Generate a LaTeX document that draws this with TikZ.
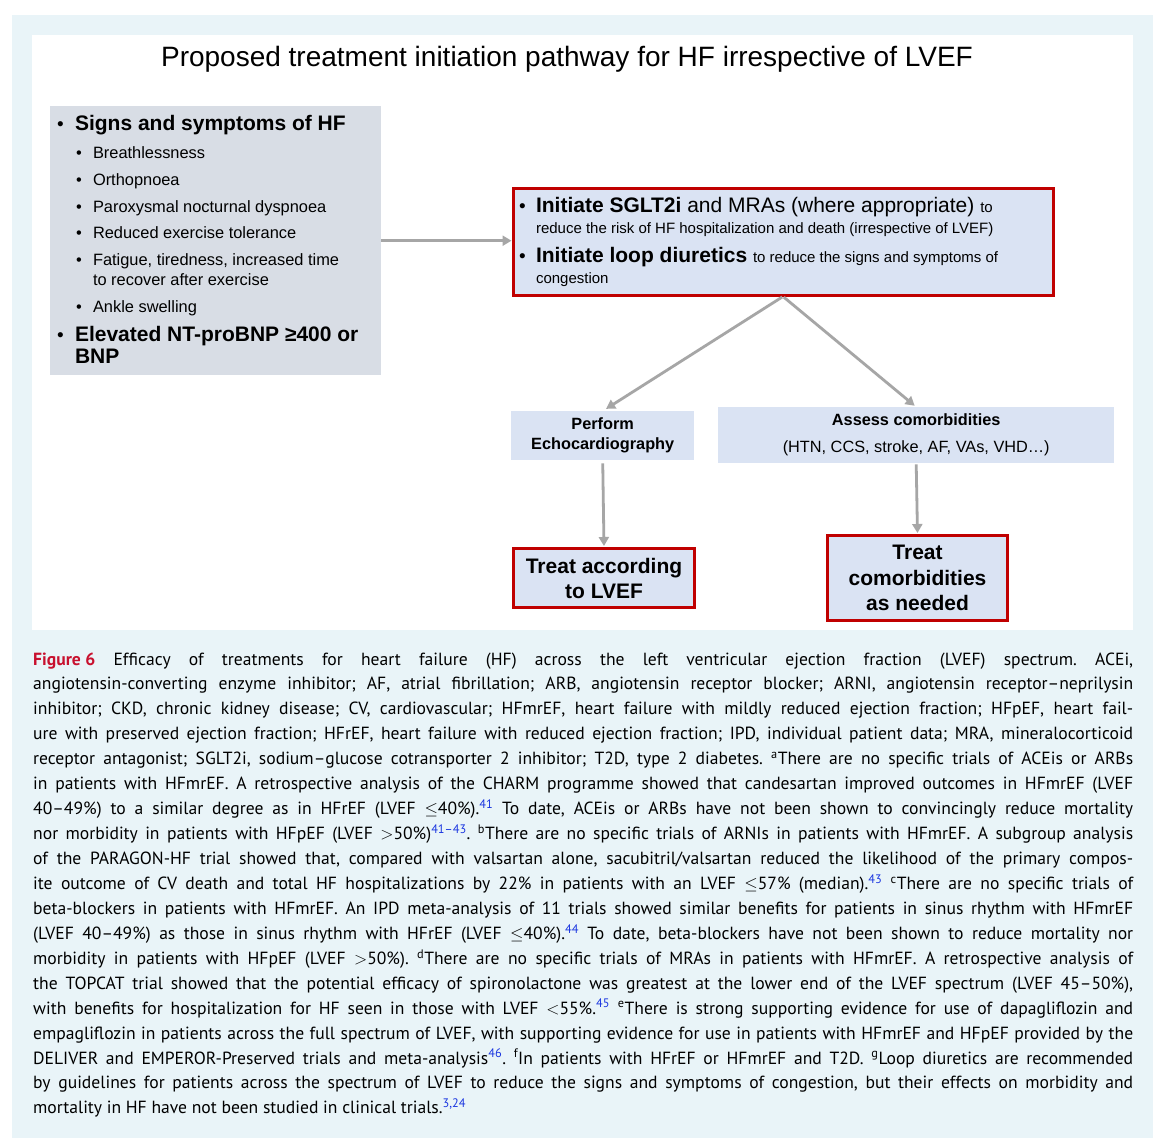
\documentclass[tikz,border=0pt]{standalone}
\usepackage{fontspec}
\setmainfont{Liberation Sans}
\newfontfamily\capfont{PT Sans}
\usetikzlibrary{arrows.meta}
\definecolor{outerbg}{HTML}{E9F4F8}
\definecolor{graybox}{HTML}{D8DDE5}
\definecolor{bluebox}{HTML}{DAE3F3}
\definecolor{redline}{HTML}{C00000}
\definecolor{arrowgray}{HTML}{A6A6A6}
\definecolor{figred}{HTML}{C8102E}
\definecolor{supblue}{HTML}{1A35E0}
\newcommand\fs[1]{\fontsize{#1}{#1}\selectfont}
\newcommand\capline[1]{\hbox to 1100pt{#1}}
\newcommand\sref[1]{\textsuperscript{\textcolor{supblue}{#1}}}
\begin{document}
\begin{tikzpicture}[x=1pt,y=-1pt,
  txt/.style={inner sep=0pt, outer sep=0pt, anchor=base west},
  redbox/.style={draw=redline, line width=3pt, fill=bluebox, inner sep=0pt, anchor=north west},
  plainbox/.style={fill=bluebox, inner sep=0pt, anchor=north west, align=center},
  flow/.style={draw=arrowgray, line width=2.8pt, -{Triangle[length=9pt,width=10pt]}},
  subitem/.style={txt, font=\fs{16.4}},
  mainitem/.style={txt, font=\fs{21}\bfseries},
  reditem/.style={txt, font=\fs{21}}
]
\useasboundingbox (0,0) rectangle (1165,1144);
\fill[white] (0,0) rectangle (1165,1144);
\fill[outerbg] (12,15) rectangle (1153,1138);
\fill[white] (32,35) rectangle (1133,630);

% title
\node[inner sep=0pt, anchor=base, font=\fs{28}] (title) at (567,66) {Proposed treatment initiation pathway for HF irrespective of LVEF};

% left box
\node[fill=graybox, inner sep=0pt, anchor=north west, minimum width=331pt, minimum height=269pt] (signs) at (50,106) {};
\node[txt, font=\fs{19}] (b1) at (57,130) {\textbullet};
\node[mainitem] (m1) at (75,130) {Signs and symptoms of HF};
\node[subitem] (sb1) at (76,158) {\textbullet};
\node[subitem] (s1) at (93,158) {Breathlessness};
\node[subitem] (sb2) at (76,185) {\textbullet};
\node[subitem] (s2) at (93,185) {Orthopnoea};
\node[subitem] (sb3) at (76,212) {\textbullet};
\node[subitem] (s3) at (93,212) {Paroxysmal nocturnal dyspnoea};
\node[subitem] (sb4) at (76,238) {\textbullet};
\node[subitem] (s4) at (93,238) {Reduced exercise tolerance};
\node[subitem] (sb5) at (76,265) {\textbullet};
\node[subitem] (s5) at (93,265) {Fatigue, tiredness, increased time};
\node[subitem] (s5b) at (93,285) {to recover after exercise};
\node[subitem] (sb6) at (76,312) {\textbullet};
\node[subitem] (s6) at (93,312) {Ankle swelling};
\node[txt, font=\fs{19}] (b2) at (57,341) {\textbullet};
\node[mainitem] (m2) at (75,341) {Elevated NT-proBNP ≥400 or};
\node[mainitem] (m2b) at (75,363) {BNP};

% red box
\node[redbox, minimum width=540pt, minimum height=107pt] (initiate) at (511.5,186.5) {};
\node[txt, font=\fs{19}] (rb1) at (519,212) {\textbullet};
\node[reditem] (r1) at (536,212) {\textbf{Initiate SGLT2i} and MRAs (where appropriate) {\fs{15}to}};
\node[txt, font=\fs{15}] (r1b) at (536,233) {reduce the risk of HF hospitalization and death (irrespective of LVEF)};
\node[txt, font=\fs{19}] (rb2) at (519,262) {\textbullet};
\node[reditem] (r2) at (536,262) {\textbf{Initiate loop diuretics} {\fs{15}to reduce the signs and symptoms of}};
\node[txt, font=\fs{15}] (r2b) at (536,283) {congestion};

% middle boxes
\node[plainbox, minimum width=183pt, minimum height=49pt, font=\fontsize{16.3}{20}\selectfont\bfseries] (echo) at (511,411) {Perform\\Echocardiography};
\node[plainbox, minimum width=396pt, minimum height=56pt, font=\fontsize{16.3}{27}\selectfont] (assess) at (718,407) {\textbf{Assess comorbidities}\\(HTN, CCS, stroke, AF, VAs, VHD…)};

% bottom boxes
\node[redbox, align=center, minimum width=181pt, minimum height=59pt, font=\fontsize{21}{25}\selectfont\bfseries] (treatlvef) at (512,547) {Treat according\\to LVEF};
\node[redbox, align=center, minimum width=180pt, minimum height=85pt, font=\fontsize{21}{25.5}\selectfont\bfseries] (treatco) at (826,534) {Treat\\comorbidities\\as needed};

% connectors
\draw[flow] (signs.east) -- (signs.east -| initiate.west);
\draw[flow, shorten <=1pt, shorten >=4pt] (initiate.south) -- (echo.north);
\draw[flow, shorten <=1pt, shorten >=2pt] (initiate.south) -- (assess.north);
\draw[flow, shorten <=3pt, shorten >=1pt] (echo.south) -- (treatlvef.north);
\draw[flow, shorten <=1pt, shorten >=1pt] (assess.south) -- (treatco.north);

% caption
\node[inner sep=0pt, anchor=base west] (caption) at (33,665) {\begin{minipage}[t]{1100pt}\capfont\fontsize{17.6}{24.94}\selectfont\frenchspacing
\capline{\textcolor{figred}{\textbf{\mbox{Figure 6}}} Efficacy of treatments for heart failure (HF) across the left ventricular ejection fraction (LVEF) spectrum. ACEi,}
\capline{angiotensin-converting enzyme inhibitor; AF, atrial fibrillation; ARB, angiotensin receptor blocker; ARNI, angiotensin receptor–neprilysin}
\capline{inhibitor; CKD, chronic kidney disease; CV, cardiovascular; HFmrEF, heart failure with mildly reduced ejection fraction; HFpEF, heart fail-}
\capline{ure with preserved ejection fraction; HFrEF, heart failure with reduced ejection fraction; IPD, individual patient data; MRA, mineralocorticoid}
\capline{receptor antagonist; SGLT2i, sodium–glucose cotransporter 2 inhibitor; T2D, type 2 diabetes. \textsuperscript{a}There are no specific trials of ACEis or ARBs}
\capline{in patients with HFmrEF. A retrospective analysis of the CHARM programme showed that candesartan improved outcomes in HFmrEF (LVEF}
\capline{40–49\%) to a similar degree as in HFrEF (LVEF $\leq$40\%).\sref{41} To date, ACEis or ARBs have not been shown to convincingly reduce mortality}
\capline{nor morbidity in patients with HFpEF (LVEF $>$50\%)\sref{41–43}. \textsuperscript{b}There are no specific trials of ARNIs in patients with HFmrEF. A subgroup analysis}
\capline{of the PARAGON-HF trial showed that, compared with valsartan alone, sacubitril/valsartan reduced the likelihood of the primary compos-}
\capline{ite outcome of CV death and total HF hospitalizations by 22\% in patients with an LVEF $\leq$57\% (median).\sref{43} \textsuperscript{c}There are no specific trials of}
\capline{beta-blockers in patients with HFmrEF. An IPD meta-analysis of 11 trials showed similar benefits for patients in sinus rhythm with HFmrEF}
\capline{(LVEF 40–49\%) as those in sinus rhythm with HFrEF (LVEF $\leq$40\%).\sref{44} To date, beta-blockers have not been shown to reduce mortality nor}
\capline{morbidity in patients with HFpEF (LVEF $>$50\%). \textsuperscript{d}There are no specific trials of MRAs in patients with HFmrEF. A retrospective analysis of}
\capline{the TOPCAT trial showed that the potential efficacy of spironolactone was greatest at the lower end of the LVEF spectrum (LVEF 45–50\%),}
\capline{with benefits for hospitalization for HF seen in those with LVEF $<$55\%.\sref{45} \textsuperscript{e}There is strong supporting evidence for use of dapagliflozin and}
\capline{empagliflozin in patients across the full spectrum of LVEF, with supporting evidence for use in patients with HFmrEF and HFpEF provided by the}
\capline{DELIVER and EMPEROR-Preserved trials and meta-analysis\sref{46}. \textsuperscript{f}In patients with HFrEF or HFmrEF and T2D. \textsuperscript{g}Loop diuretics are recommended}
\capline{by guidelines for patients across the spectrum of LVEF to reduce the signs and symptoms of congestion, but their effects on morbidity and}
\capline{mortality in HF have not been studied in clinical trials.\sref{3,24}\hfil}
\end{minipage}};
\end{tikzpicture}
\end{document}
